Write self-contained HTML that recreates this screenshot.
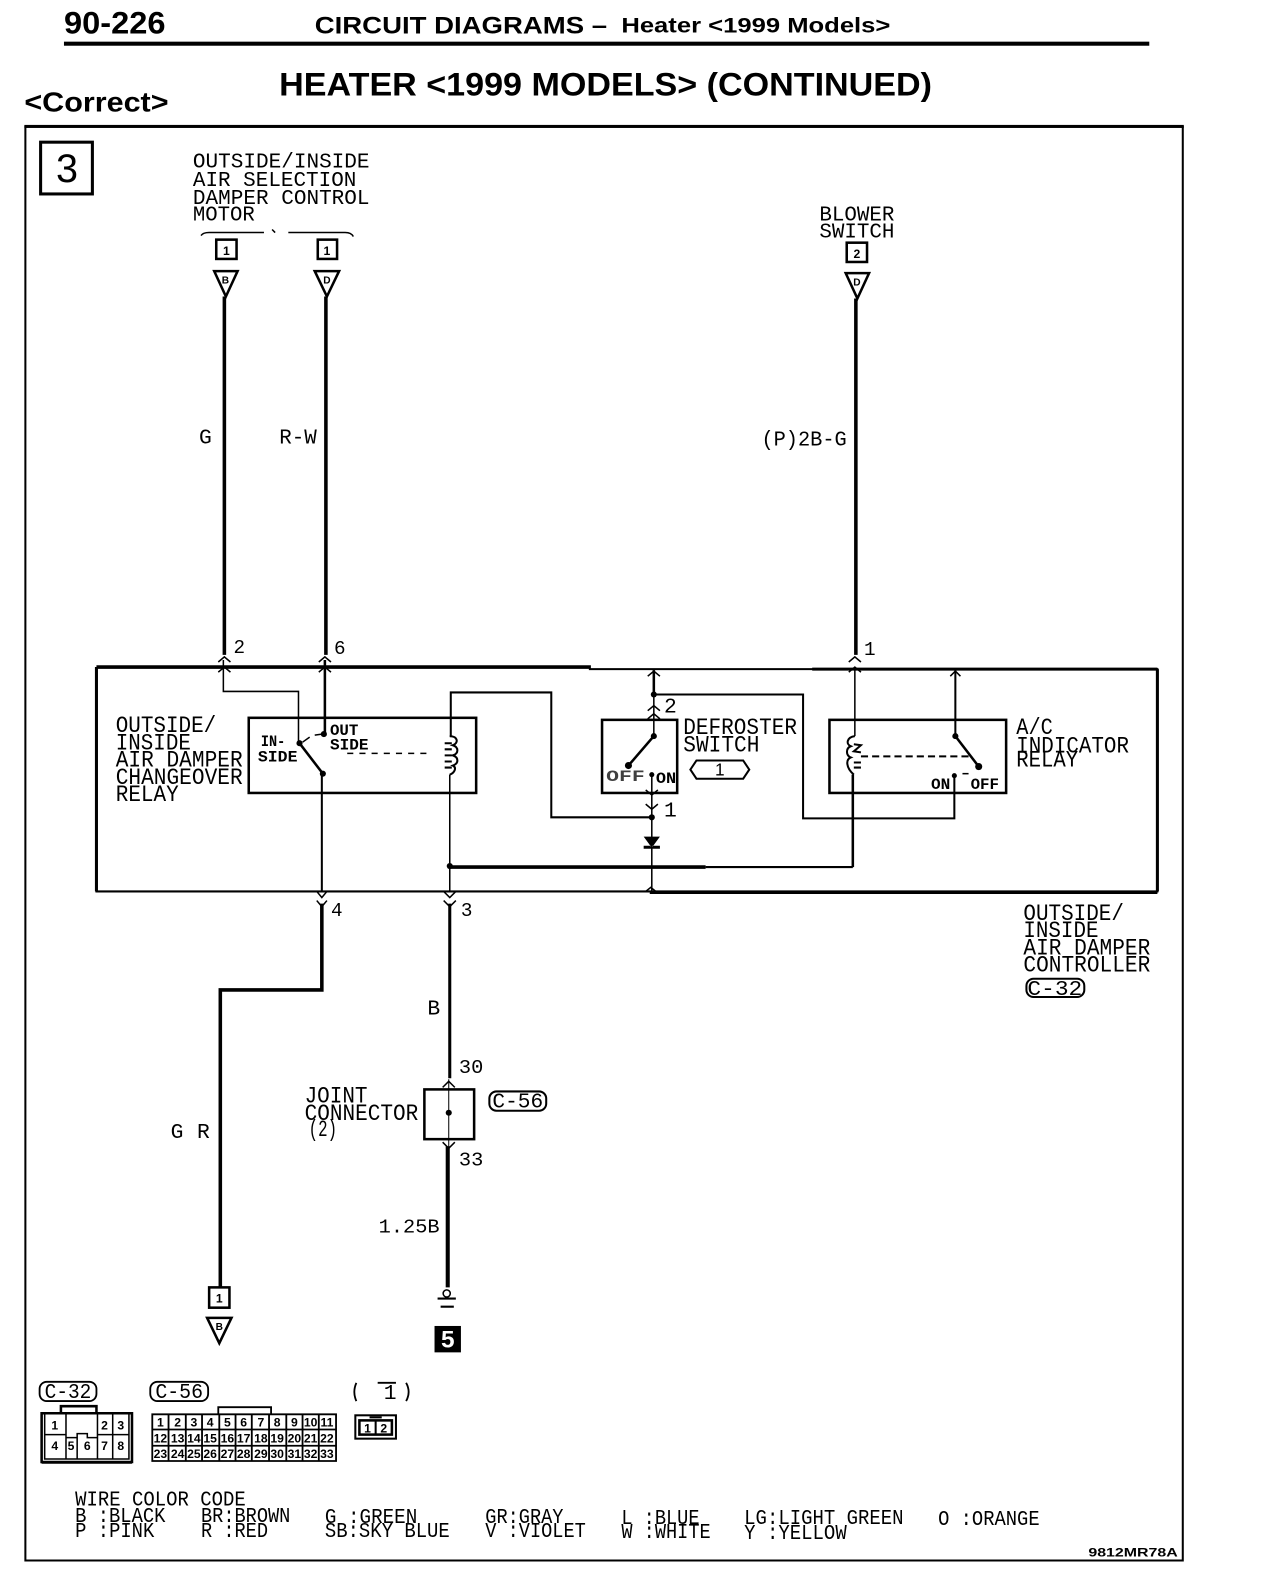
<!DOCTYPE html>
<html><head><meta charset="utf-8"><style>
html,body{margin:0;padding:0;background:#fff}
svg{display:block}
.h{font-family:"Liberation Sans",sans-serif;font-weight:700;fill:#000}
.m{font-family:"Liberation Mono",monospace;fill:#000;font-size:23px}
.s{font-family:"Liberation Mono",monospace;fill:#000;font-size:21px}
.b{font-family:"Liberation Mono",monospace;font-weight:700;fill:#000;font-size:15px}
.c{font-family:"Liberation Sans",sans-serif;font-weight:700;fill:#000;font-size:12px;text-anchor:middle}
.l{fill:none;stroke:#000}
</style></head><body>
<svg width="1264" height="1592" viewBox="0 0 1245 1568" xmlns="http://www.w3.org/2000/svg">
<rect width="1245" height="1568" fill="#fff"/>
<!-- header -->
<text class="h" x="63" y="33" font-size="31" textLength="100" lengthAdjust="spacingAndGlyphs">90-226</text>
<text class="h" x="310" y="33" font-size="24" textLength="288" lengthAdjust="spacingAndGlyphs">CIRCUIT DIAGRAMS –</text>
<text class="h" x="612" y="32" font-size="21" textLength="265" lengthAdjust="spacingAndGlyphs">Heater &lt;1999 Models&gt;</text>
<rect x="63" y="41" width="1069" height="4" fill="#000"/>
<text class="h" x="275" y="94" font-size="32" textLength="643" lengthAdjust="spacingAndGlyphs">HEATER &lt;1999 MODELS&gt; (CONTINUED)</text>
<text class="h" x="24" y="110" font-size="27" textLength="142" lengthAdjust="spacingAndGlyphs">&lt;Correct&gt;</text>
<!-- frame -->
<path class="l" stroke-width="2" d="M25 124V1537H1165V124"/>
<rect x="24" y="123" width="1142" height="3" fill="#000"/>
<rect class="l" stroke-width="3" x="40" y="140" width="51" height="51"/>
<text x="66" y="179" font-family="Liberation Sans,sans-serif" font-size="39" text-anchor="middle">3</text>
<!-- top labels -->
<g class="s">
<text x="190" y="165" textLength="174" lengthAdjust="spacingAndGlyphs">OUTSIDE/INSIDE</text>
<text x="190" y="183" textLength="161" lengthAdjust="spacingAndGlyphs">AIR SELECTION</text>
<text x="190" y="201" textLength="174" lengthAdjust="spacingAndGlyphs">DAMPER CONTROL</text>
<text x="190" y="217" textLength="61" lengthAdjust="spacingAndGlyphs">MOTOR</text>
<text x="807" y="217" textLength="74" lengthAdjust="spacingAndGlyphs">BLOWER</text>
<text x="807" y="234" textLength="74" lengthAdjust="spacingAndGlyphs">SWITCH</text>
</g>
<path class="l" stroke-width="1.500" d="M198 232Q200 229 206 229H260M268 226l3 3M284 229H340Q346 229 348 233"/>
<rect class="l" stroke-width="2.500" x="213" y="236" width="20" height="19"/>
<rect class="l" stroke-width="2.500" x="313" y="236" width="19" height="19"/>
<rect class="l" stroke-width="2.500" x="834" y="239" width="20" height="19"/>
<text class="c" x="223" y="251">1</text><text class="c" x="322" y="251">1</text><text class="c" x="844" y="254">2</text>
<path class="l" stroke-width="2.500" d="M211 267H234L222.500 292ZM310 267H334L322 292ZM833 269H856L844.500 294Z"/>
<text class="c" x="222" y="279" style="font-size:10px">B</text><text class="c" x="322" y="279" style="font-size:10px">D</text><text class="c" x="844" y="281" style="font-size:10px">D</text>
<!-- wires thick upper -->
<path class="l" stroke-width="3.500" d="M221 292V645M321 292V645M843 294V645"/>
<g class="s">
<text x="196" y="437">G</text>
<text x="275" y="437" textLength="37" lengthAdjust="spacingAndGlyphs">R-W</text>
<text x="750" y="439" textLength="84" lengthAdjust="spacingAndGlyphs">(P)2B-G</text>
<text x="230" y="643" font-size="19">2</text><text x="329" y="644" font-size="19">6</text><text x="851" y="645" font-size="19">1</text>
</g>
<!-- controller box -->
<path class="l" stroke-width="2" d="M95 657V878H1140V659H580"/>
<path d="M95 657H582" class="l" stroke-width="3.500"/>
<path d="M95 657V878M640 879H1140M800 659H1140M1140 659V878" class="l" stroke-width="3"/>
<!-- arrows on border -->
<path class="l" stroke-width="1.500" d="M215 652l6-5 6 5M215 662l6-5 6 5M314 652l6-5 6 5M314 662l6-5 6 5M836 652l6-5 6 5M836 662l6-5 6 5M638 666l6-5 6 5M936 666l5-5 5 5M312 878l5 6 5-6M312 887l5 6 5-6M437 878l6 6 6-6M437 887l6 6 6-6M636 878l5-4 5 4"/>
<!-- internal wires -->
<path class="l" stroke-width="1.500" d="M220 650V681H294V732"/>
<path class="l" stroke-width="2.500" d="M320 650V723"/>
<path class="l" stroke-width="2" d="M444 726V682H543V805H641"/>
<path class="l" stroke-width="1.500" d="M443 763V878"/>
<path class="l" stroke-width="2" d="M317 762V878"/>
<!-- left relay -->
<rect class="l" stroke-width="2.500" x="245" y="707" width="224" height="74"/>
<path class="l" stroke-width="2.500" d="M295 732L318 762"/>
<path class="l" stroke-width="1.500" d="M298 731L305 726M310 724L317 723"/>
<path class="l" stroke-width="1.500" stroke-dasharray="6 6" d="M342 742H420"/>
<circle cx="295" cy="732" r="3"/><circle cx="319" cy="723" r="3"/><circle cx="318" cy="762" r="3"/>
<path class="l" stroke-width="2" d="M443 725c8 0 9 7 3 9c6 2 6 8 0 10c6 2 6 8 0 10c4 2 2 7-3 9"/>
<path class="l" stroke-width="2" d="M445 732h-7M445 738h-7M445 744h-7M445 750h-7M445 756h-7"/>
<text class="b" x="257" y="735" textLength="24" lengthAdjust="spacingAndGlyphs">IN-</text>
<text class="b" x="254" y="750" textLength="39" lengthAdjust="spacingAndGlyphs">SIDE</text>
<text class="b" x="325" y="724" textLength="28" lengthAdjust="spacingAndGlyphs">OUT</text>
<text class="b" x="325" y="738" textLength="38" lengthAdjust="spacingAndGlyphs">SIDE</text>
<g class="m">
<text x="114" y="721" textLength="99" lengthAdjust="spacingAndGlyphs">OUTSIDE/</text>
<text x="114" y="738" textLength="74" lengthAdjust="spacingAndGlyphs">INSIDE</text>
<text x="114" y="755" textLength="125" lengthAdjust="spacingAndGlyphs">AIR DAMPER</text>
<text x="114" y="772" textLength="125" lengthAdjust="spacingAndGlyphs">CHANGEOVER</text>
<text x="114" y="789" textLength="62" lengthAdjust="spacingAndGlyphs">RELAY</text>
</g>
<!-- defroster switch -->
<rect class="l" stroke-width="2.500" x="593" y="709" width="74" height="72"/>
<path class="l" stroke-width="2.500" d="M644 660V685"/>
<path class="l" stroke-width="1.500" d="M644 685V725M642 763V878"/>
<path class="l" stroke-width="2" d="M644 684H791V806H940V764"/>
<path class="l" stroke-width="2.500" d="M644 725L619 754"/>
<circle cx="644" cy="725" r="3"/><circle cx="619" cy="754" r="3.500"/><circle cx="642" cy="763" r="2.500"/><circle cx="642" cy="805" r="3"/><circle cx="644" cy="684" r="3"/>
<path class="l" stroke-width="1.500" d="M638 700l6-5 6 5M638 708l6-5 6 5M636 778l6 5 6-5M636 792l6 5 6-5"/>
<path d="M634 824H650L642 835ZM634 836H650V833H634Z" fill="#000"/>
<text class="b" x="597" y="769" textLength="38" lengthAdjust="spacingAndGlyphs" opacity=".75">OFF</text>
<text class="b" x="646" y="771" textLength="20" lengthAdjust="spacingAndGlyphs">ON</text>
<text x="654" y="702" class="s">2</text><text x="654" y="804" class="s">1</text>
<g class="m">
<text x="673" y="723" textLength="112" lengthAdjust="spacingAndGlyphs">DEFROSTER</text>
<text x="673" y="740" textLength="75" lengthAdjust="spacingAndGlyphs">SWITCH</text>
<text x="1001" y="723" textLength="36" lengthAdjust="spacingAndGlyphs">A/C</text>
<text x="1001" y="741" textLength="111" lengthAdjust="spacingAndGlyphs">INDICATOR</text>
<text x="1001" y="755" textLength="61" lengthAdjust="spacingAndGlyphs">RELAY</text>
</g>
<path class="l" stroke-width="2" d="M686 749H732L738 758L732 767H686L680 758Z"/>
<text class="c" x="709" y="764" style="font-size:17px;font-weight:400">1</text>
<!-- ac relay -->
<rect class="l" stroke-width="2.500" x="817" y="709" width="174" height="72"/>
<path class="l" stroke-width="1.500" d="M842 660V725"/>
<path class="l" stroke-width="2" d="M941 660V725"/>
<path class="l" stroke-width="2.500" d="M941 725L964 755"/>
<circle cx="941" cy="725" r="3"/><circle cx="964" cy="755" r="3.500"/><circle cx="940" cy="764" r="2.500"/>
<path class="l" stroke-width="2" d="M842 725c-8 1-9 8-4 10c-5 2-5 9 0 11c-5 2-5 10 3 17"/>
<path class="l" stroke-width="2" d="M841 733l7 1-7 6 7 1M841 751h7M841 756h7"/>
<path class="l" stroke-width="2" stroke-dasharray="7 4" d="M848 745H958"/>
<path class="l" stroke-width="2.500" d="M840 763V854"/>
<text class="b" x="917" y="777" textLength="19" lengthAdjust="spacingAndGlyphs">ON</text>
<text class="b" x="956" y="777" textLength="28" lengthAdjust="spacingAndGlyphs">OFF</text>
<path class="l" stroke-width="1.500" d="M948 762h6"/>
<!-- bus -->
<path class="l" stroke-width="3.500" d="M443 854H695"/>
<path class="l" stroke-width="2" d="M695 854H840"/>
<circle cx="443" cy="853" r="3"/>
<text x="1008" y="906" class="m" textLength="99" lengthAdjust="spacingAndGlyphs">OUTSIDE/</text>
<text x="1008" y="923" class="m" textLength="74" lengthAdjust="spacingAndGlyphs">INSIDE</text>
<text x="1008" y="940" class="m" textLength="125" lengthAdjust="spacingAndGlyphs">AIR DAMPER</text>
<text x="1008" y="957" class="m" textLength="125" lengthAdjust="spacingAndGlyphs">CONTROLLER</text>
<rect class="l" stroke-width="2" x="1011" y="964" width="57" height="18" rx="7"/>
<text x="1012" y="980" class="s" textLength="54" lengthAdjust="spacingAndGlyphs">C-32</text>
<!-- lower wires -->
<path class="l" stroke-width="3.500" d="M317 890V975H217V1268"/>
<path class="l" stroke-width="3" d="M443 890V1062"/>
<path class="l" stroke-width="4" d="M441 1129V1268"/>
<g class="s">
<text x="326" y="902" font-size="19">4</text><text x="454" y="902" font-size="19">3</text>
<text x="421" y="999">B</text>
<text x="168" y="1121">G</text><text x="194" y="1121">R</text>
<text x="452" y="1057" font-size="19" textLength="24" lengthAdjust="spacingAndGlyphs">30</text>
<text x="452" y="1148" font-size="19" textLength="24" lengthAdjust="spacingAndGlyphs">33</text>
<text x="373" y="1214" font-size="19" textLength="60" lengthAdjust="spacingAndGlyphs">1.25B</text>
</g>
<!-- joint -->
<rect class="l" stroke-width="2.500" x="418" y="1073" width="49" height="49"/>
<path class="l" stroke-width="1" d="M442 1063V1130"/>
<circle cx="442" cy="1096" r="3"/>
<path class="l" stroke-width="1.500" d="M436 1071l6-6 6 6M436 1125l6 6 6-6"/>
<g class="m">
<text x="300" y="1086" textLength="62" lengthAdjust="spacingAndGlyphs">JOINT</text>
<text x="300" y="1103" textLength="112" lengthAdjust="spacingAndGlyphs">CONNECTOR</text>
<text x="304" y="1119" textLength="28" lengthAdjust="spacingAndGlyphs">(2)</text>
</g>
<rect class="l" stroke-width="2" x="482" y="1075" width="56" height="19" rx="7"/>
<text x="485" y="1091" class="s" textLength="50" lengthAdjust="spacingAndGlyphs">C-56</text>
<!-- bottom connector -->
<rect class="l" stroke-width="2.500" x="206" y="1268" width="20" height="20"/>
<text class="c" x="216" y="1283">1</text>
<path class="l" stroke-width="2.500" d="M204 1298H228L216 1323Z"/>
<text class="c" x="216" y="1310" style="font-size:10px">B</text>
<!-- ground -->
<circle class="l" stroke-width="1.500" cx="440" cy="1274" r="3.500"/>
<path class="l" stroke-width="2" d="M431 1279H449M434 1287H447"/>
<rect x="428" y="1306" width="26" height="26" fill="#000"/>
<text x="441" y="1327" font-family="Liberation Sans,sans-serif" font-weight="700" font-size="24" text-anchor="middle" fill="#fff">5</text>
<!-- connector diagrams -->
<rect class="l" stroke-width="1.800" x="39" y="1361" width="56" height="19" rx="7"/>
<rect class="l" stroke-width="1.800" x="148" y="1361" width="57" height="19" rx="7"/>
<path class="l" stroke-width="1.800" d="M351 1362q-4 9 0 18M372 1362H390M400 1362q5 9 0 18"/>
<text x="44" y="1377" class="s" textLength="46" lengthAdjust="spacingAndGlyphs">C-32</text>
<text x="153" y="1377" class="s" textLength="47" lengthAdjust="spacingAndGlyphs">C-56</text>
<text x="378" y="1378" class="s">1</text>
<path class="l" stroke-width="2.500" d="M41 1392H130V1440H41ZM60 1392V1385H95V1392"/>
<path class="l" stroke-width="1.500" d="M44 1392V1437H127V1392M65 1392V1437M96 1392V1437M111 1392V1437M44 1413H65M96 1413H127M65 1416H76V1412H86V1416H96M76 1416V1437"/>
<path class="l" stroke-width="1.500" d="M41 1441H130"/>
<g class="c"><text x="54" y="1408">1</text><text x="103" y="1408">2</text><text x="119" y="1408">3</text><text x="54" y="1428">4</text><text x="70" y="1428">5</text><text x="86" y="1428">6</text><text x="103" y="1428">7</text><text x="119" y="1428">8</text></g>
<path class="l" stroke-width="1.800" d="M150 1393H331V1439H150ZM150 1408H331M150 1424H331M215 1393V1386H267V1393M166 1393V1439M183 1393V1439M199 1393V1439M216 1393V1439M232 1393V1439M265 1393V1439M282 1393V1439M298 1393V1439M314 1393V1439M248 1393V1439"/>
<g class="c">
<text x="158" y="1405">1</text><text x="175" y="1405">2</text><text x="191" y="1405">3</text><text x="207" y="1405">4</text><text x="224" y="1405">5</text><text x="240" y="1405">6</text><text x="257" y="1405">7</text><text x="273" y="1405">8</text><text x="290" y="1405">9</text><text x="306" y="1405">10</text><text x="322" y="1405">11</text>
<text x="158" y="1421">12</text><text x="175" y="1421">13</text><text x="191" y="1421">14</text><text x="207" y="1421">15</text><text x="224" y="1421">16</text><text x="240" y="1421">17</text><text x="257" y="1421">18</text><text x="273" y="1421">19</text><text x="290" y="1421">20</text><text x="306" y="1421">21</text><text x="322" y="1421">22</text>
<text x="158" y="1436">23</text><text x="175" y="1436">24</text><text x="191" y="1436">25</text><text x="207" y="1436">26</text><text x="224" y="1436">27</text><text x="240" y="1436">28</text><text x="257" y="1436">29</text><text x="273" y="1436">30</text><text x="290" y="1436">31</text><text x="306" y="1436">32</text><text x="322" y="1436">33</text>
</g>
<rect class="l" stroke-width="2" x="350" y="1394" width="40" height="23"/>
<rect class="l" stroke-width="2.500" x="354" y="1399" width="32" height="14"/>
<path class="l" stroke-width="2" d="M370 1399V1413M364 1396H376"/>
<text class="c" x="362" y="1411">1</text><text class="c" x="378" y="1411">2</text>
<!-- wire color -->
<g class="s">
<text x="74" y="1483" textLength="168" lengthAdjust="spacingAndGlyphs">WIRE COLOR CODE</text>
<text x="74" y="1499" textLength="89" lengthAdjust="spacingAndGlyphs">B :BLACK</text>
<text x="74" y="1514" textLength="78" lengthAdjust="spacingAndGlyphs">P :PINK</text>
<text x="198" y="1499" textLength="88" lengthAdjust="spacingAndGlyphs">BR:BROWN</text>
<text x="198" y="1514" textLength="66" lengthAdjust="spacingAndGlyphs">R :RED</text>
<text x="320" y="1500" textLength="91" lengthAdjust="spacingAndGlyphs">G :GREEN</text>
<text x="320" y="1514" textLength="123" lengthAdjust="spacingAndGlyphs">SB:SKY BLUE</text>
<text x="478" y="1500" textLength="77" lengthAdjust="spacingAndGlyphs">GR:GRAY</text>
<text x="478" y="1514" textLength="99" lengthAdjust="spacingAndGlyphs">V :VIOLET</text>
<text x="612" y="1501" textLength="77" lengthAdjust="spacingAndGlyphs">L :BLUE</text>
<text x="612" y="1515" textLength="88" lengthAdjust="spacingAndGlyphs">W :WHITE</text>
<text x="733" y="1501" textLength="157" lengthAdjust="spacingAndGlyphs">LG:LIGHT GREEN</text>
<text x="733" y="1516" textLength="101" lengthAdjust="spacingAndGlyphs">Y :YELLOW</text>
<text x="924" y="1502" textLength="100" lengthAdjust="spacingAndGlyphs">O :ORANGE</text>
</g>
<text x="1072" y="1533" class="h" font-size="12" textLength="88" lengthAdjust="spacingAndGlyphs">9812MR78A</text>
</svg>
</body></html>
